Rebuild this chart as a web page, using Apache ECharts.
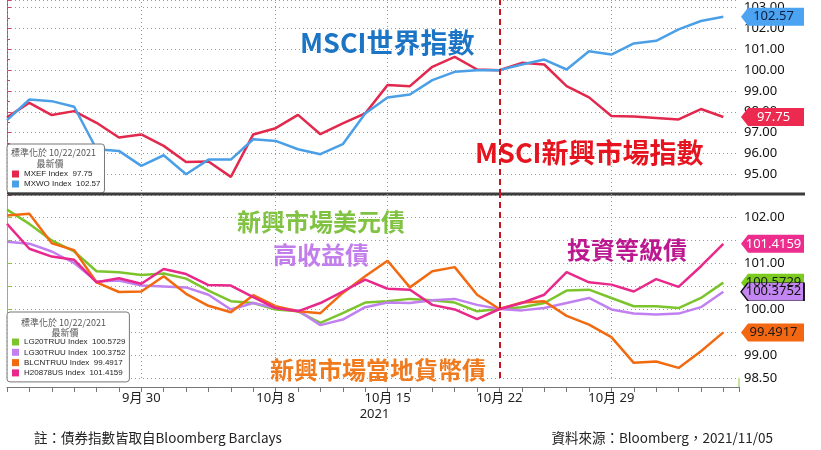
<!DOCTYPE html>
<html>
<head>
<meta charset="utf-8">
<script src="https://cdn.jsdelivr.net/npm/echarts@6/dist/echarts.min.js"></script>
<style>
  html, body { margin: 0; padding: 0; background: #fff; }
  #chart { width: 821px; height: 450px; }
</style>
</head>
<body>
<div id="chart"></div>
<script>
  // trading days shown on the x axis (index = position)
  const dates = ['9/22','9/23','9/24','9/27','9/28','9/29','9/30','10/1','10/4','10/5','10/6',
    '10/7','10/8','10/11','10/12','10/13','10/14','10/15','10/18','10/19','10/20','10/21','10/22',
    '10/25','10/26','10/27','10/28','10/29','11/1','11/2','11/3','11/4','11/5'];
  const tickIdx = [6, 12, 17, 22, 27];
  const tickText = ['9月 30', '10月 8', '10月 15\n{y|2021}', '10月 22', '10月 29'];
  const gridIdx = [0, 6, 12, 17, 27];
  const baseIdx = 22; // normalised on 10/22/2021

  // top panel: MSCI indices normalised to 100
  const mxef = [97.73, 98.43, 97.84, 98.03, 97.47, 96.76, 96.91, 96.36, 95.59, 95.61, 94.87,
    96.91, 97.21, 97.85, 96.92, 97.44, 97.92, 99.28, 99.23, 100.16, 100.64, 100.03, 100.0,
    100.35, 100.27, 99.23, 98.69, 97.8, 97.77, 97.7, 97.63, 98.13, 97.75];
  const mxwo = [97.6, 98.59, 98.51, 98.24, 96.2, 96.12, 95.4, 95.91, 95.0, 95.7, 95.7,
    96.68, 96.6, 96.2, 95.96, 96.44, 97.92, 98.69, 98.83, 99.52, 99.92, 100.0, 100.0,
    100.27, 100.51, 100.03, 100.91, 100.75, 101.28, 101.41, 101.96, 102.36, 102.57];

  // bottom panel: bond indices normalised to 100
  const lg20 = [102.16, 101.85, 101.49, 101.25, 100.82, 100.8, 100.74, 100.77, 100.66, 100.4,
    100.17, 100.13, 99.99, 99.95, 99.7, 99.91, 100.14, 100.17, 100.22, 100.19, 100.14, 99.95,
    100.0, 100.04, 100.13, 100.4, 100.42, 100.24, 100.06, 100.06, 100.02, 100.24, 100.5729];
  const lg30 = [101.46, 101.42, 101.25, 101.0, 100.6, 100.62, 100.51, 100.49, 100.47, 100.31,
    99.99, 100.13, 100.02, 99.97, 99.65, 99.77, 100.04, 100.14, 100.13, 100.19, 100.22, 100.09,
    100.0, 99.97, 100.02, 100.13, 100.24, 99.99, 99.9, 99.88, 99.9, 100.04, 100.3752];
  const blcn = [102.03, 102.07, 101.43, 101.28, 100.58, 100.37, 100.38, 100.71, 100.33, 100.07,
    99.93, 100.3, 100.06, 99.95, 99.91, 100.35, 100.71, 101.05, 100.47, 100.82, 100.91, 100.31,
    100.0, 100.14, 100.17, 99.85, 99.66, 99.39, 98.83, 98.86, 98.72, 99.08, 99.4917];
  const h2087 = [101.85, 101.31, 101.14, 101.07, 100.58, 100.67, 100.55, 100.87, 100.76, 100.52,
    100.51, 100.26, 100.02, 99.95, 100.13, 100.38, 100.64, 100.44, 100.42, 100.09, 99.99, 99.78,
    100.0, 100.13, 100.31, 100.8, 100.58, 100.53, 100.38, 100.65, 100.48, 100.93, 101.4159];

  const XMAX = 32.7;
  const TAG = 'path://M0,9 L7,0 L63,0 L63,18 L7,18 Z';
  const NUM_FONT = "'Noto Sans', 'Noto Sans CJK TC', sans-serif";
  const CJK_FONT = "'Noto Sans CJK TC', 'Noto Sans', sans-serif";

  const pts = arr => arr.map((v, i) => [i, v]);
  const last = arr => arr[arr.length - 1];

  function tag(arr, bg, fg, border) {
    return {
      silent: true,
      symbol: TAG,
      symbolSize: [63, 18],
      symbolKeepAspect: false,
      symbolOffset: [33.5, 0],
      itemStyle: { color: bg, borderColor: border || bg, borderWidth: border ? 1 : 0 },
      label: { show: true, color: fg, fontSize: 13, fontFamily: NUM_FONT, offset: [1, 0],
        formatter: p => String(p.value) },
      data: [{ coord: [XMAX, last(arr)], value: last(arr) }]
    };
  }

  const vGrid = {
    silent: true,
    symbol: ['none', 'none'],
    label: { show: false },
    lineStyle: { color: '#999', type: [1, 3], width: 1 },
    data: gridIdx.map(i => ({ xAxis: i })).concat([
      { xAxis: baseIdx, lineStyle: { color: '#C8141E', type: [6, 4], width: 2 } }
    ])
  };

  function line(name, arr, color, grid, extra) {
    return Object.assign({
      name: name,
      type: 'line',
      xAxisIndex: grid,
      yAxisIndex: grid,
      data: pts(arr),
      showSymbol: false,
      lineStyle: { color: color, width: 2.5 },
      itemStyle: { color: color }
    }, extra || {});
  }

  const splitStyle = { show: true, lineStyle: { color: '#999', type: [1, 3], width: 1 } };
  const legendText = { fontSize: 8, lineHeight: 10, color: '#222', fontFamily: "'Liberation Sans', sans-serif" };

  const chart = echarts.init(document.getElementById('chart'));
  chart.setOption({
    animation: false,
    backgroundColor: '#fff',
    grid: [
      { left: 7, right: 82, top: 0, height: 195 },
      { left: 7, right: 82, top: 194, height: 184 }
    ],
    xAxis: [
      { type: 'value', gridIndex: 0, min: 0, max: XMAX, interval: 1,
        axisLine: { show: false }, axisTick: { show: false }, axisLabel: { show: false },
        splitLine: { show: false } },
      { type: 'value', gridIndex: 1, min: 0, max: XMAX, interval: 1, offset: 9,
        axisLine: { lineStyle: { color: '#777' } },
        axisTick: { length: 5, lineStyle: { color: '#777' } },
        axisLabel: {
          margin: 3, fontSize: 13, color: '#222', fontFamily: NUM_FONT, lineHeight: 16,
          formatter: v => { const k = tickIdx.indexOf(v); return k >= 0 ? tickText[k] : ''; },
          rich: { y: { fontSize: 13, color: '#222', fontFamily: NUM_FONT, padding: [0, 26, 0, 0] } }
        },
        splitLine: { show: false } }
    ],
    yAxis: [
      { type: 'value', gridIndex: 0, position: 'right', min: 94, max: 103.37, interval: 1,
        axisLine: { show: true, lineStyle: { color: '#C8466E' } },
        axisTick: { show: true, length: 4, lineStyle: { color: '#C8466E' } },
        minorTick: { show: true, splitNumber: 2, length: 3, lineStyle: { color: '#C8466E' } },
        axisLabel: { margin: 5, fontSize: 13, color: '#111', fontFamily: NUM_FONT,
          formatter: v => (Number.isInteger(v) && v > 94) ? v.toFixed(2) : '' },
        splitLine: splitStyle },
      { type: 'value', gridIndex: 1, position: 'right', min: 98.5, max: 102.5, interval: 0.5,
        axisLine: { show: true, lineStyle: { color: '#8DC63F' } },
        axisTick: { show: true, length: 4, lineStyle: { color: '#8DC63F' } },
        axisLabel: { margin: 5, fontSize: 13, color: '#111', fontFamily: NUM_FONT,
          formatter: v => (Number.isInteger(v) || v === 98.5) ? v.toFixed(2) : '' },
        splitLine: splitStyle }
    ],
    legend: [
      { data: ['MXEF Index', 'MXWO Index'], left: 7, top: 144, orient: 'vertical',
        icon: 'rect', itemWidth: 7, itemHeight: 7, itemGap: 0, selectedMode: false,
        padding: [25, 4, 4, 5], backgroundColor: '#fff', borderColor: '#777', borderWidth: 1,
        borderRadius: 3, textStyle: legendText,
        formatter: n => n + '  ' + (n === 'MXEF Index' ? last(mxef) : last(mxwo)) },
      { data: ['LG20TRUU Index', 'LG30TRUU Index', 'BLCNTRUU Index', 'H20878US Index'],
        left: 7, top: 312, orient: 'vertical',
        icon: 'rect', itemWidth: 7, itemHeight: 7, itemGap: 0.3, selectedMode: false,
        padding: [25, 4, 4, 5], backgroundColor: '#fff', borderColor: '#777', borderWidth: 1,
        borderRadius: 3, textStyle: legendText,
        formatter: n => n + '  ' + ({ 'LG20TRUU Index': last(lg20), 'LG30TRUU Index': last(lg30),
          'BLCNTRUU Index': last(blcn), 'H20878US Index': last(h2087) })[n] }
    ],
    graphic: [
      { type: 'line', z: 5, shape: { x1: 7, y1: 194, x2: 805, y2: 194 },
        style: { stroke: '#3c3c3c', lineWidth: 3 } },
      { type: 'line', z: 5, shape: { x1: 739, y1: 378, x2: 739, y2: 387 },
        style: { stroke: '#8DC63F', lineWidth: 1 } },
      // legend titles
      { type: 'text', z: 10, x: 11, y: 153, style: { text: '標準化於 10/22/2021', fill: '#555',
        font: "9px 'Noto Sans CJK TC'", align: 'left', verticalAlign: 'middle', textAlign: 'left', textVerticalAlign: 'middle' } },
      { type: 'text', z: 10, x: 50, y: 164, style: { text: '最新價', fill: '#555',
        font: "9px 'Noto Sans CJK TC'", align: 'center', verticalAlign: 'middle', textAlign: 'center', textVerticalAlign: 'middle' } },
      { type: 'text', z: 10, x: 21, y: 323, style: { text: '標準化於 10/22/2021', fill: '#555',
        font: "9px 'Noto Sans CJK TC'", align: 'left', verticalAlign: 'middle', textAlign: 'left', textVerticalAlign: 'middle' } },
      { type: 'text', z: 10, x: 65, y: 333, style: { text: '最新價', fill: '#555',
        font: "9px 'Noto Sans CJK TC'", align: 'center', verticalAlign: 'middle', textAlign: 'center', textVerticalAlign: 'middle' } },
      // annotations
      { type: 'text', z: 10, x: 300, y: 43, style: { text: 'MSCI世界指數', fill: '#1C74C4',
        font: "bold 27px " + CJK_FONT, align: 'left', verticalAlign: 'middle', textAlign: 'left', textVerticalAlign: 'middle' } },
      { type: 'text', z: 10, x: 475, y: 153, style: { text: 'MSCI新興市場指數', fill: '#E5141E',
        font: "bold 27px " + CJK_FONT, align: 'left', verticalAlign: 'middle', textAlign: 'left', textVerticalAlign: 'middle' } },
      { type: 'text', z: 10, x: 237, y: 222, style: { text: '新興市場美元債', fill: '#80C242',
        font: "bold 24px " + CJK_FONT, align: 'left', verticalAlign: 'middle', textAlign: 'left', textVerticalAlign: 'middle' } },
      { type: 'text', z: 10, x: 273, y: 255, style: { text: '高收益債', fill: '#C27EEA',
        font: "bold 24px " + CJK_FONT, align: 'left', verticalAlign: 'middle', textAlign: 'left', textVerticalAlign: 'middle' } },
      { type: 'text', z: 10, x: 270, y: 370, style: { text: '新興市場當地貨幣債', fill: '#F07A1E',
        font: "bold 24px " + CJK_FONT, align: 'left', verticalAlign: 'middle', textAlign: 'left', textVerticalAlign: 'middle' } },
      { type: 'text', z: 10, x: 567, y: 250, style: { text: '投資等級債', fill: '#BC1890',
        font: "bold 24px " + CJK_FONT, align: 'left', verticalAlign: 'middle', textAlign: 'left', textVerticalAlign: 'middle' } },
      // footer
      { type: 'text', z: 10, x: 34, y: 438, style: { text: '註：債券指數皆取自Bloomberg Barclays', fill: '#222',
        font: "13.5px " + CJK_FONT, align: 'left', verticalAlign: 'middle', textAlign: 'left', textVerticalAlign: 'middle' } },
      { type: 'text', z: 10, x: 773, y: 438, style: { text: '資料來源：Bloomberg，2021/11/05', fill: '#222',
        font: "13.5px " + CJK_FONT, align: 'right', verticalAlign: 'middle', textAlign: 'right', textVerticalAlign: 'middle' } }
    ],
    series: [
      line('MXEF Index', mxef, '#E2284C', 0, { markLine: vGrid, markPoint: tag(mxef, '#EC2A50', '#fff') }),
      line('MXWO Index', mxwo, '#4A9FE6', 0, { markPoint: tag(mxwo, '#4BA3F2', '#0E1E3C') }),
      line('LG20TRUU Index', lg20, '#7CC42C', 1, { markLine: vGrid, markPoint: tag(lg20, '#7DCB1E', '#1a1a1a') }),
      line('LG30TRUU Index', lg30, '#C080F0', 1, { markPoint: tag(lg30, '#C386F3', '#111', '#111') }),
      line('BLCNTRUU Index', blcn, '#F26A10', 1, { markPoint: tag(blcn, '#F46712', '#1a1a1a') }),
      line('H20878US Index', h2087, '#E8288A', 1, { markPoint: tag(h2087, '#EC2D8E', '#fff') })
    ]
  });
</script>
</body>
</html>
